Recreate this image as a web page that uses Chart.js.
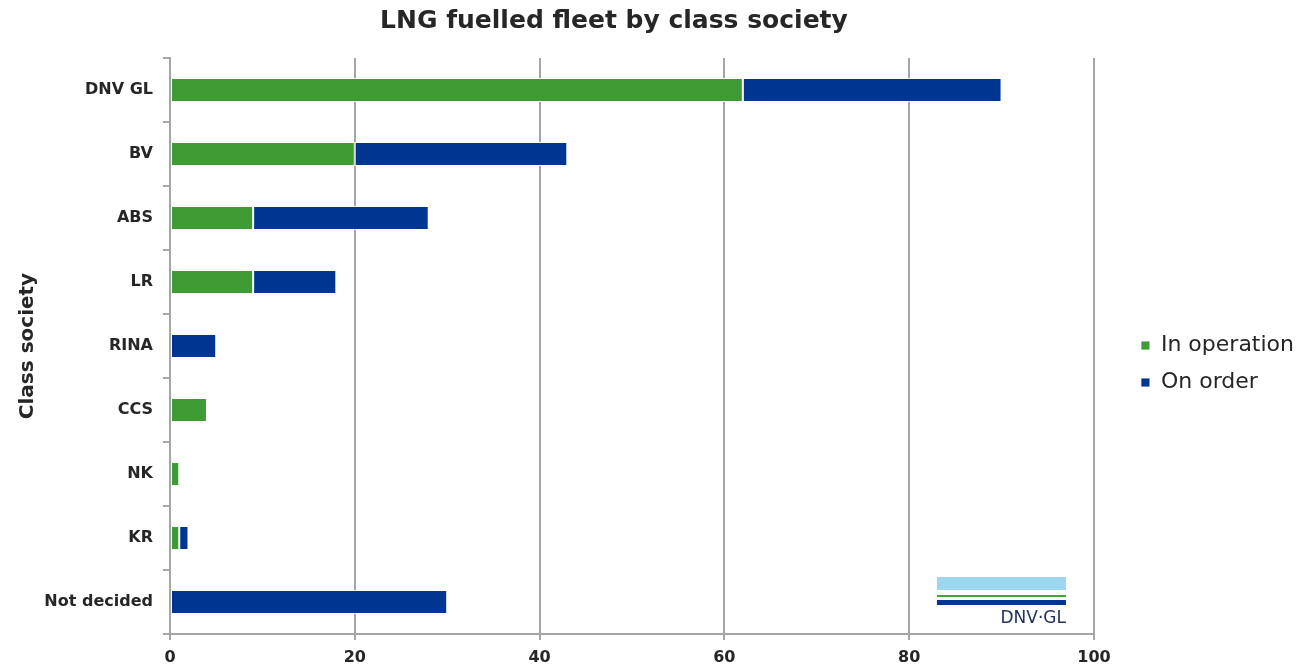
<!DOCTYPE html>
<html>
<head>
<meta charset="utf-8">
<script src="https://cdn.jsdelivr.net/npm/chart.js@4.4.1/dist/chart.umd.min.js"></script>
<style>
html,body{margin:0;padding:0;background:#fff;}
#wrap{width:1301px;height:670px;position:relative;}
</style>
</head>
<body>
<div id="wrap"><canvas id="c" width="1301" height="670"></canvas></div>
<script>
const categories = ["DNV GL","BV","ABS","LR","RINA","CCS","NK","KR","Not decided"];
const inOperation = [62,20,9,9,0,4,1,1,0];
const onOrder = [28,23,19,9,5,0,0,1,30];
const xTicks = [0,20,40,60,80,100];
const chartTitle = "LNG fuelled fleet by class society";
const yTitle = "Class society";
const seriesNames = ["In operation","On order"];

const FONT = "'DejaVu Sans', Verdana, sans-serif";
const GREEN = "#3f9c35";
const BLUE = "#003591";
const GRID = "#a6a6a6";

const titlePlugin = {
  id: 'customTitle',
  afterDraw(chart){
    const ctx = chart.ctx;
    ctx.save();
    ctx.font = "bold 25px " + FONT;
    ctx.fillStyle = "#262626";
    ctx.textAlign = "center";
    ctx.textBaseline = "middle";
    ctx.fillText(chartTitle, (chart.chartArea.left + chart.chartArea.right)/2 - 18, 21);
    ctx.restore();
  }
};

const legendShift = {
  id: 'legendShift',
  afterLayout(chart){
    const lg = chart.legend;
    if (!lg) return;
    const w = lg.right - lg.left;
    lg.left = chart.chartArea.right + 32;
    lg.right = lg.left + w;
  }
};

const logoPlugin = {
  id: 'logo',
  afterDatasetsDraw(chart){
    const ctx = chart.ctx;
    const a = chart.chartArea;
    const r = a.right - 28, w = 129, l = r - w;
    const b = a.bottom;
    ctx.save();
    ctx.fillStyle = "#9dd6f0";
    ctx.fillRect(l, b - 57, w, 13);
    ctx.fillStyle = "#3fa535";
    ctx.fillRect(l, b - 39, w, 2);
    ctx.fillStyle = "#003591";
    ctx.fillRect(l, b - 34, w, 5);
    ctx.fillStyle = "#22305e";
    ctx.font = "17px " + FONT;
    ctx.textAlign = "right";
    ctx.textBaseline = "alphabetic";
    ctx.fillText("DNV\u00B7GL", r, b - 11);
    ctx.restore();
  }
};

new Chart(document.getElementById('c'), {
  type: 'bar',
  data: {
    labels: categories,
    datasets: [
      {label: seriesNames[0], data: inOperation, backgroundColor: GREEN, borderColor: "rgba(255,255,255,0.85)", borderWidth: 1, borderSkipped: false, barPercentage: 0.375, categoryPercentage: 1.0},
      {label: seriesNames[1], data: onOrder, backgroundColor: BLUE, borderColor: "rgba(255,255,255,0.85)", borderWidth: 1, borderSkipped: false, barPercentage: 0.375, categoryPercentage: 1.0}
    ]
  },
  options: {
    indexAxis: 'y',
    responsive: false,
    animation: false,
    layout: {padding: {top: 58, bottom: 0, left: 16, right: 29}},
    scales: {
      x: {
        stacked: true,
        min: 0, max: 100,
        afterBuildTicks(s){ s.ticks = xTicks.map(v => ({value: v})); },
        ticks: {color: "#262626", font: {family: FONT, size: 16, weight: 'bold'}, padding: 8},
        grid: {color: (c) => c.tick && c.tick.value === 0 ? 'rgba(0,0,0,0)' : GRID, lineWidth: 2, tickLength: 6, tickColor: GRID},
        border: {display: true, color: GRID, width: 2},
        afterFit(s){ s.height = 36; }
      },
      y: {
        stacked: true,
        ticks: {color: "#262626", font: {family: FONT, size: 16, weight: 'bold'}, padding: 10},
        grid: {display: true, drawOnChartArea: false, offset: true, tickLength: 7, color: GRID, lineWidth: 2},
        border: {display: true, color: GRID, width: 2},
        title: {display: true, text: yTitle, color: "#262626", font: {family: FONT, size: 20, weight: 'bold'}, padding: {top: 0, bottom: 4}},
        afterFit(s){ s.width = 154; }
      }
    },
    plugins: {
      legend: {
        position: 'right',
        labels: {color: "#262626", font: {family: FONT, size: 22}, boxWidth: 9, boxHeight: 9, padding: 15}
      },
      tooltip: {enabled: false},
      title: {display: false}
    }
  },
  plugins: [titlePlugin, legendShift, logoPlugin]
});
</script>
</body>
</html>
